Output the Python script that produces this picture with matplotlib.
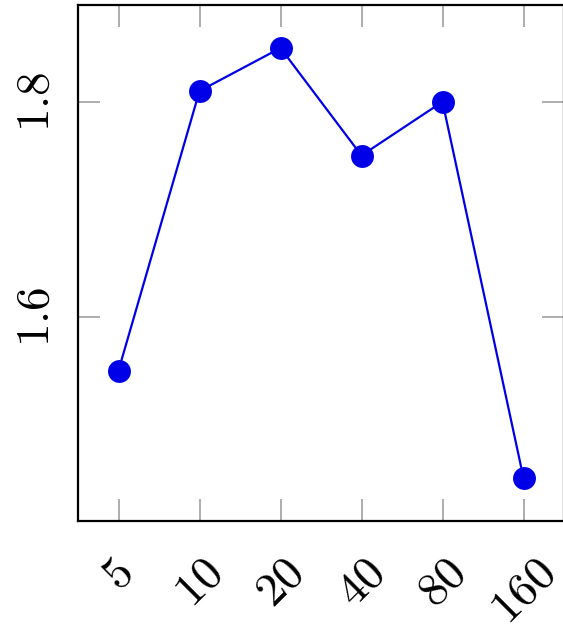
import matplotlib
matplotlib.use("Agg")
import matplotlib.pyplot as plt

CATEGORIES = ["5", "10", "20", "40", "80", "160"]
VALUES = [1.55, 1.81, 1.85, 1.75, 1.80, 1.45]
Y_TICKS = [1.6, 1.8]
Y_TICK_LABELS = ["1.6", "1.8"]


def main() -> None:
    plt.rcParams["mathtext.fontset"] = "cm"
    plt.rcParams["font.family"] = "DejaVu Serif"

    fig = plt.figure(figsize=(5.63, 6.29), dpi=100)
    # right spine sits just outside the picture, as in the reference
    ax = fig.add_axes([78 / 563, 108 / 629, 486 / 563, 516 / 629])

    xs = list(range(len(CATEGORIES)))
    ax.plot(xs, VALUES, color="#0000e8", lw=1.6, marker="o",
            markersize=16.5, markeredgewidth=0, zorder=3, clip_on=False)

    ax.set_xlim(-0.5, 5.5)
    ax.set_ylim(1.41, 1.89)

    ax.set_xticks(xs)
    ax.set_xticklabels([f"${c}$" for c in CATEGORIES], rotation=45,
                       ha="center", va="top", fontsize=34)
    ax.set_yticks(Y_TICKS)
    ax.set_yticklabels([f"${t}$" for t in Y_TICK_LABELS], rotation=90,
                       va="center", fontsize=34)

    ax.tick_params(axis="both", direction="in", length=16, width=1.2,
                   color="#a0a0a0", top=True, right=True)
    ax.tick_params(axis="x", pad=21)
    ax.tick_params(axis="y", pad=14)

    for spine in ax.spines.values():
        spine.set_linewidth(1.6)
        spine.set_color("black")

    fig.savefig("out.png", dpi=100)


if __name__ == "__main__":
    main()
